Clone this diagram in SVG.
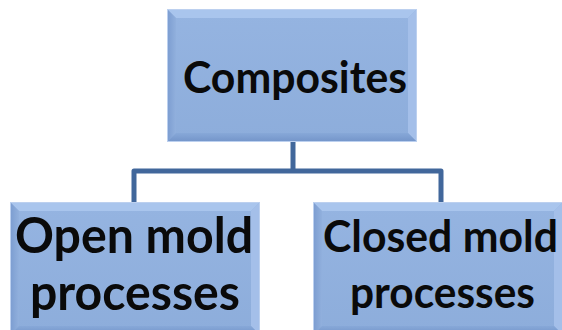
<svg xmlns="http://www.w3.org/2000/svg" xmlns:xlink="http://www.w3.org/1999/xlink" width="562" height="330" viewBox="0 0 562 330">
  <style>
    .label { font-family: Lato, "Open Sans", "Liberation Sans", sans-serif; font-weight: 700; fill: #0a0a0a; text-anchor: middle; }
    .conn { fill: none; stroke: #41679b; stroke-width: 5; stroke-linejoin: round; stroke-linecap: butt; }
  </style>
  <defs>
    <linearGradient id="faceGrad" x1="0" y1="0" x2="0" y2="1">
      <stop offset="0" stop-color="#95b4e1"/>
      <stop offset="1" stop-color="#8dadDB"/>
    </linearGradient>
    <linearGradient id="leftGrad" x1="0" y1="0" x2="1" y2="0">
      <stop offset="0" stop-color="#7b9cd0"/>
      <stop offset="1" stop-color="#91b0dd"/>
    </linearGradient>
    <linearGradient id="bottomGrad" x1="0" y1="0" x2="0" y2="1">
      <stop offset="0" stop-color="#87a8d8"/>
      <stop offset="1" stop-color="#7394c9"/>
    </linearGradient>
    <g id="box">
      <rect x="0" y="0" width="250" height="133" fill="url(#faceGrad)"/>
      <polygon points="0,0 250,0 241,9 9,9" fill="#a9c5ed"/>
      <polygon points="0,0 9,9 9,124 0,133" fill="url(#leftGrad)"/>
      <polygon points="250,0 250,133 241,124 241,9" fill="#a4bfe9"/>
      <polygon points="0,133 9,124 241,124 250,133" fill="url(#bottomGrad)"/>
      <rect x="0.5" y="0.5" width="249" height="132" fill="none" stroke="#bcd0ef" stroke-width="1"/>
    </g>
  </defs>
  <rect x="0" y="0" width="562" height="330" fill="#ffffff"/>

  <g id="connectors">
    <path class="conn" d="M293,142 V171"/>
    <path class="conn" d="M134,202 V171 H441 V202"/>
  </g>

  <g id="node-composites">
    <use xlink:href="#box" href="#box" x="167" y="9"/>
    <text class="label" x="295" y="93" font-size="43" textLength="224" lengthAdjust="spacingAndGlyphs">Composites</text>
  </g>

  <g id="node-open">
    <use xlink:href="#box" href="#box" x="10" y="202"/>
    <text class="label" x="134" y="253" font-size="49" textLength="238" lengthAdjust="spacingAndGlyphs">Open mold</text>
    <text class="label" x="135" y="310" font-size="49" textLength="210" lengthAdjust="spacingAndGlyphs">processes</text>
  </g>

  <g id="node-closed">
    <use xlink:href="#box" href="#box" x="313" y="202"/>
    <text class="label" x="440.5" y="252" font-size="43" textLength="235" lengthAdjust="spacingAndGlyphs">Closed mold</text>
    <text class="label" x="442.5" y="308" font-size="43" textLength="185" lengthAdjust="spacingAndGlyphs">processes</text>
  </g>
</svg>
